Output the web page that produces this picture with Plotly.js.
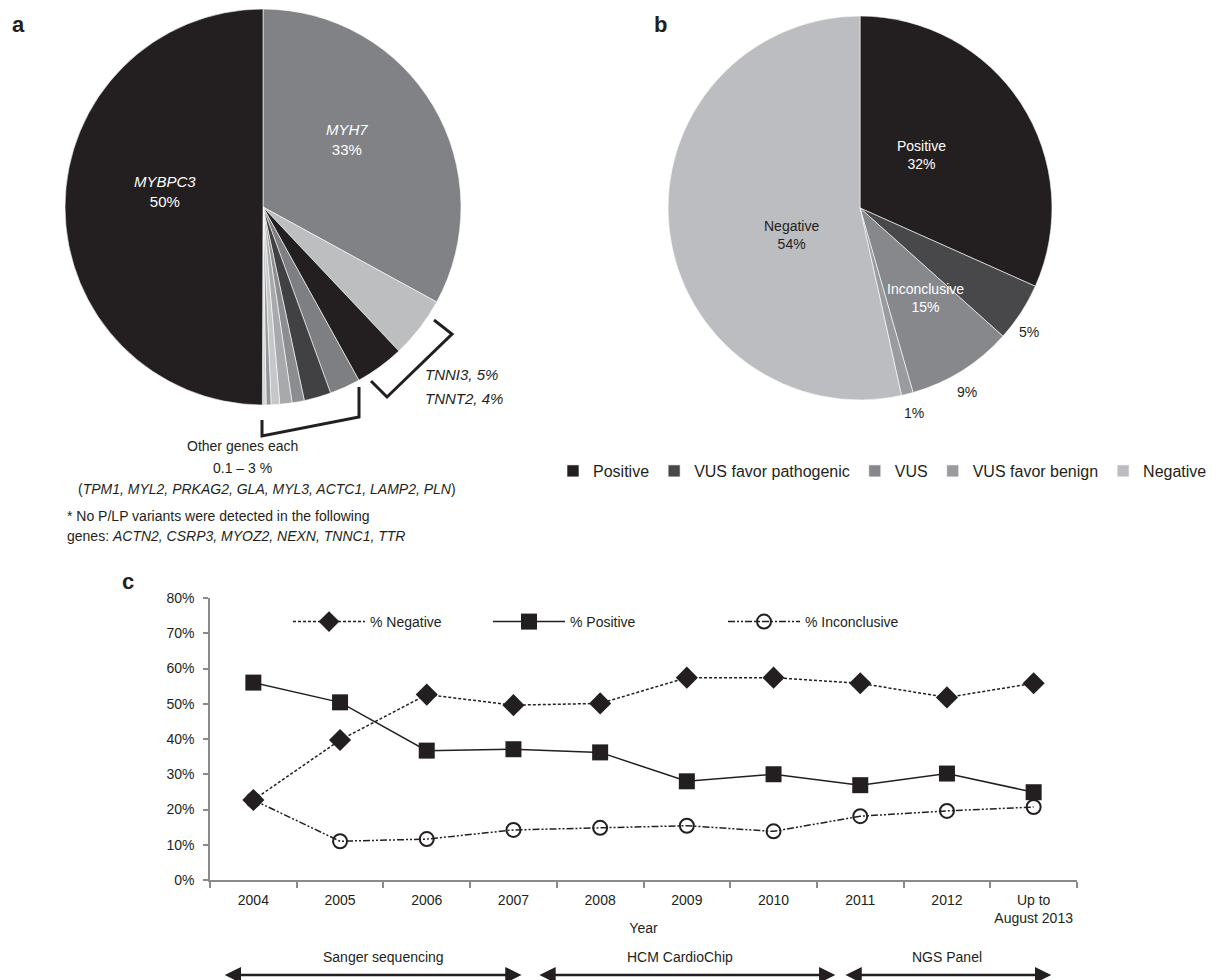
<!DOCTYPE html>
<html>
<head>
<meta charset="utf-8">
<script src="https://cdn.plot.ly/plotly-3.0.1.min.js"></script>
<style>
html,body{margin:0;padding:0;background:#ffffff;}
#chart{width:1218px;height:980px;}
</style>
</head>
<body>
<div id="chart"></div>
<script>
// ---------- data ----------
// Panel a: distribution of P/LP variants by gene (%), clockwise from 12 o'clock
const geneNames = ['MYH7','TNNI3','TNNT2','TPM1','MYL2','PRKAG2','GLA','MYL3','ACTC1','LAMP2','PLN','MYBPC3'];
const geneShares = [33, 5, 4, 2.5, 2.2, 1.0, 1.0, 0.7, 0.4, 0.2, 0.1, 50];
const otherGenes = ['TPM1','MYL2','PRKAG2','GLA','MYL3','ACTC1','LAMP2','PLN'];
const undetectedGenes = ['ACTN2','CSRP3','MYOZ2','NEXN','TNNC1','TTR'];

// Panel b: overall test results (%)
const resultNames = ['Positive','VUS favor pathogenic','VUS','VUS favor benign','Negative'];
const resultShares = [32, 5, 9, 1, 54];

// Panel c: yearly results (%)
const years = ['2004','2005','2006','2007','2008','2009','2010','2011','2012','Up to<br>August 2013'];
const pctNegative = [22.7, 39.7, 52.6, 49.6, 50.1, 57.4, 57.4, 55.8, 51.8, 55.8];
const pctPositive = [56.0, 50.4, 36.7, 37.1, 36.2, 28.0, 30.0, 26.9, 30.2, 24.9];
const pctInconclusive = [22.7, 11.0, 11.6, 14.2, 14.8, 15.4, 13.8, 18.1, 19.6, 20.7];
const phaseNames = ['Sanger sequencing','HCM CardioChip','NGS Panel'];

// ---------- styling ----------
const W = 1218, H = 980;
const px = x => x / W;
const py = y => 1 - y / H;
const FONT = 'Arial, "Liberation Sans", Helvetica, sans-serif';
const INK = '#231f20';
const AX = '#8a8a8a';

const geneColors = ['#808285','#bcbec0','#231f20','#7e7f82','#414042','#8c8d90','#a7a9ac','#c6c7c9','#939598','#d1d3d4','#6d6e71','#231f20'];
const resultColors = ['#231f20','#48484a','#87888b','#9a9b9e','#bcbdc0'];

const pieA = {
  type: 'pie', labels: geneNames, values: geneShares, sort: false,
  direction: 'clockwise', rotation: 0, textinfo: 'none', hoverinfo: 'label+percent',
  marker: {colors: geneColors, line: {color: '#ffffff', width: 0.6}},
  domain: {x: [px(65), px(461)], y: [py(405), py(9)]},
  showlegend: false
};
const pieB = {
  type: 'pie', labels: resultNames, values: resultShares, sort: false,
  direction: 'clockwise', rotation: 0, textinfo: 'none', hoverinfo: 'label+percent',
  marker: {colors: resultColors, line: {color: '#ffffff', width: 0.6}},
  domain: {x: [px(668), px(1052)], y: [py(400), py(16)]},
  showlegend: true, legend: 'legend'
};

const lineBase = {type: 'scatter', mode: 'lines+markers', x: years, xaxis: 'x', yaxis: 'y', legend: 'legend2', hoverinfo: 'x+y+name'};
const trInc = Object.assign({}, lineBase, {
  name: '% Inconclusive', y: pctInconclusive, legendrank: 3, legendwidth: 110,
  line: {color: INK, width: 1.5, dash: '7px,2px,2px,2px,2px,2px'},
  marker: {symbol: 'circle-open', size: 14, color: INK, line: {width: 2, color: INK}}
});
const trPos = Object.assign({}, lineBase, {
  name: '% Positive', y: pctPositive, legendrank: 2, legendwidth: 148,
  line: {color: INK, width: 1.5},
  marker: {symbol: 'square', size: 16, color: INK}
});
const trNeg = Object.assign({}, lineBase, {
  name: '% Negative', y: pctNegative, legendrank: 1, legendwidth: 113,
  line: {color: INK, width: 1.5, dash: '3px,2px'},
  marker: {symbol: 'diamond', size: 17, color: INK}
});

// ---------- annotations ----------
const ann = [];
function txt(x, y, text, opts) {
  ann.push(Object.assign({xref: 'paper', yref: 'paper', x: px(x), y: py(y), text: text,
    showarrow: false, xanchor: 'center', yanchor: 'middle', font: {size: 14, color: INK}}, opts || {}));
}
// panel letters
txt(18, 25, '<b>a</b>', {font: {size: 22, color: INK}});
txt(660, 25, '<b>b</b>', {font: {size: 22, color: INK}});
txt(128, 581, '<b>c</b>', {font: {size: 22, color: INK}});

// panel a labels
const gi = n => geneNames.indexOf(n);
txt(165, 191.5, '<i>' + geneNames[gi('MYBPC3')] + '</i><br>' + geneShares[gi('MYBPC3')] + '%', {font: {size: 15, color: '#ffffff'}});
txt(347, 140, '<i>' + geneNames[gi('MYH7')] + '</i><br>' + geneShares[gi('MYH7')] + '%', {font: {size: 15, color: '#ffffff'}});
txt(423, 374, '<i>' + geneNames[gi('TNNI3')] + ', ' + geneShares[gi('TNNI3')] + '%</i>', {xanchor: 'left', font: {size: 15, color: INK}});
txt(423, 398, '<i>' + geneNames[gi('TNNT2')] + ', ' + geneShares[gi('TNNT2')] + '%</i>', {xanchor: 'left', font: {size: 15, color: INK}});
txt(242, 446, 'Other genes each');
txt(242, 468, '0.1 – 3 %');
txt(267, 489, '(<i>' + otherGenes.join(', ') + '</i>)');
txt(65, 516, '* No P/LP variants were detected in the following', {xanchor: 'left'});
txt(65, 536, 'genes: <i>' + undetectedGenes.join(', ') + '</i>', {xanchor: 'left'});

// panel b labels
const incl = resultShares[1] + resultShares[2] + resultShares[3];
txt(921, 155.5, resultNames[0] + '<br>' + resultShares[0] + '%', {font: {size: 14, color: '#ffffff'}});
txt(791, 234.5, resultNames[4] + '<br>' + resultShares[4] + '%', {font: {size: 14, color: INK}});
txt(925, 297.5, 'Inconclusive<br>' + incl + '%', {font: {size: 14, color: '#ffffff'}});
txt(1029, 332, resultShares[1] + '%');
txt(967, 392, resultShares[2] + '%');
txt(914, 413, resultShares[3] + '%');

// panel c phase labels and double arrows
const phaseSpans = [[-0.33, 3.11], [3.30, 6.73], [6.83, 9.22]];
const phaseLabelX = [383, 680, 947];
phaseNames.forEach((p, i) => {
  txt(phaseLabelX[i], 957, p);
  ann.push({xref: 'x', yref: 'paper', x: phaseSpans[i][0], y: py(975),
    axref: 'x', ayref: 'pixel', ax: phaseSpans[i][1], ay: 0, text: '',
    showarrow: true, arrowside: 'end+start', arrowhead: 2, startarrowhead: 2,
    arrowsize: 1.3, startarrowsize: 1.3, arrowwidth: 2.5, arrowcolor: INK,
    standoff: 0, startstandoff: 0});
});

// ---------- shapes (brackets) ----------
function pathFrom(pts) {
  return pts.map((p, i) => (i ? 'L' : 'M') + px(p[0]).toFixed(5) + ',' + py(p[1]).toFixed(5)).join(' ');
}
const shapes = [
  {type: 'path', xref: 'paper', yref: 'paper', path: pathFrom([[434,320],[452,334],[387,397],[371,381]]),
   line: {color: INK, width: 3}},
  {type: 'path', xref: 'paper', yref: 'paper', path: pathFrom([[359,387],[359,417],[262,436],[262,420]]),
   line: {color: INK, width: 3}}
];

const layout = {
  width: W, height: H,
  margin: {l: 0, r: 0, t: 0, b: 0, pad: 0},
  paper_bgcolor: '#ffffff', plot_bgcolor: '#ffffff',
  font: {family: FONT, size: 14, color: INK},
  showlegend: true,
  legend: {orientation: 'h', x: px(553), xanchor: 'left', y: py(471), yanchor: 'middle',
    font: {size: 16, color: INK}, bgcolor: 'rgba(0,0,0,0)', borderwidth: 0},
  legend2: {orientation: 'h', x: px(288), xanchor: 'left', y: py(622), yanchor: 'middle',
    itemwidth: 72, font: {size: 14, color: INK}, bgcolor: 'rgba(0,0,0,0)', borderwidth: 0},
  xaxis: {domain: [px(210), px(1077)], anchor: 'y', type: 'category',
    categoryorder: 'array', categoryarray: years, range: [-0.5, 9.5],
    tickson: 'boundaries', ticks: 'outside', ticklen: 6, tickwidth: 1.5, tickcolor: AX,
    tickangle: 0, ticklabelstandoff: 6,
    showline: true, linecolor: AX, linewidth: 1.5, showgrid: false, zeroline: false,
    tickfont: {size: 14, color: INK}, title: {text: 'Year', font: {size: 14, color: INK}},
    fixedrange: true},
  yaxis: {domain: [py(880), py(598)], anchor: 'x', range: [0, 80], dtick: 10, tick0: 0,
    ticksuffix: '%', ticks: 'outside', ticklen: 5, tickwidth: 1.5, tickcolor: AX,
    ticklabelstandoff: 6,
    showline: true, linecolor: AX, linewidth: 1.5, showgrid: false, zeroline: false,
    tickfont: {size: 14, color: INK}, fixedrange: true},
  annotations: ann,
  shapes: shapes
};

Plotly.newPlot('chart', [pieA, pieB, trInc, trPos, trNeg], layout, {displayModeBar: false, staticPlot: false});
</script>
</body>
</html>
